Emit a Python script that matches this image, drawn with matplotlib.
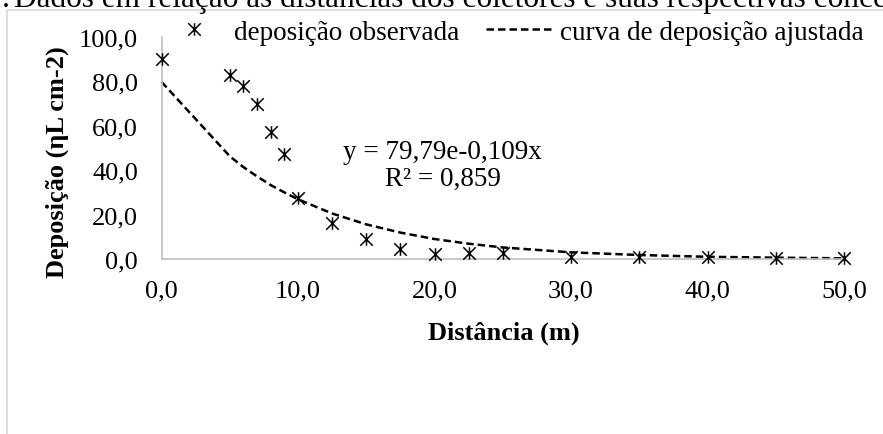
import matplotlib
matplotlib.use("Agg")
import matplotlib.pyplot as plt
from matplotlib.lines import Line2D
from matplotlib.path import Path

plt.rcParams["font.family"] = ["Liberation Serif", "DejaVu Serif"]

distancia = [0, 5, 6, 7, 8, 9, 10, 12.5, 15, 17.5, 20, 22.5, 25, 30, 35, 40, 45, 50]
deposicao = [90.0, 83.0, 78.0, 70.0, 57.0, 47.3, 27.5, 16.0, 9.0, 4.6, 2.2, 2.8, 2.7, 1.0, 1.0, 0.8, 0.5, 0.4]

# Fitted curve as drawn in the chart
curva = [79.8, 46.3, 41.4, 37.2, 33.3, 30.0, 26.9, 20.5, 15.6, 11.9, 9.0, 6.9, 5.2, 3.0, 1.8, 1.0, 0.6, 0.3]

xticks = [0, 10, 20, 30, 40, 50]
yticks = [0, 20, 40, 60, 80, 100]

W, H = 883, 435
fig = plt.figure(figsize=(W / 100, H / 100), dpi=100)

def fx(px):
    return px / W

def fy(py):
    return 1 - py / H

# outer frame (partially visible) and cut-off caption
fig.add_artist(Line2D([fx(7.5), fx(7.5), 1.0], [0.0, fy(11), fy(11)],
                      transform=fig.transFigure, color="#d9d9d9", lw=1.2))
fig.text(fx(10), fy(7), "Figura 1.", ha="right", va="baseline", fontsize=22.5)
fig.text(fx(14), fy(7), "Dados em relação às distâncias dos coletores e suas respectivas concentrações",
         ha="left", va="baseline", fontsize=22.5)

ax = fig.add_axes([fx(161.5), fy(260), fx(844) - fx(161.5), fy(38) - fy(260)])
ax.set_xlim(0, 50)
ax.set_ylim(0, 100)

# excel-style star: an X with a vertical bar
star = Path([(-1, -1), (1, 1), (-1, 1), (1, -1), (0, -1), (0, 1)],
            [Path.MOVETO, Path.LINETO, Path.MOVETO, Path.LINETO, Path.MOVETO, Path.LINETO])
ax.plot(distancia, deposicao, linestyle="none", marker=star, markersize=9,
        markeredgewidth=1.1, color="black", clip_on=False, zorder=3,
        label="deposição observada")
ax.plot(distancia, curva, linestyle=(0, (3, 1.6)), color="black", lw=1.8,
        clip_on=False, zorder=2, label="curva de deposição ajustada")

for s in ["top", "right"]:
    ax.spines[s].set_visible(False)
for s in ["left", "bottom"]:
    ax.spines[s].set_color("#bfbfbf")
    ax.spines[s].set_linewidth(1.2)

ax.set_xticks(xticks)
ax.set_xticklabels([f"{v:.1f}".replace(".", ",") for v in xticks])
ax.set_yticks(yticks)
ax.set_yticklabels([f"{v:.1f}".replace(".", ",") for v in yticks])
ax.tick_params(axis="both", length=0, labelsize=19)
ax.tick_params(axis="y", pad=17)
ax.tick_params(axis="x", pad=15)

ax.text(20.6, 42.5, "y = 79,79e-0,109x\nR² = 0,859", ha="center", va="center",
        multialignment="center", fontsize=19.5, linespacing=1.1)

fig.text(fx(504), fy(333), "Distância (m)", ha="center", va="center",
         fontsize=19, fontweight="bold")
fig.text(fx(57), fy(162), "Deposição (ηL cm-2)", ha="center", va="center",
         rotation=90, fontsize=19, fontweight="bold")

fig.legend(loc="center", bbox_to_anchor=(fx(512), fy(33)), ncol=2, frameon=False,
           fontsize=19.5, handlelength=2.5, handletextpad=0.22, columnspacing=1.0,
           borderpad=0, borderaxespad=0)

fig.savefig("out.png", dpi=100)
